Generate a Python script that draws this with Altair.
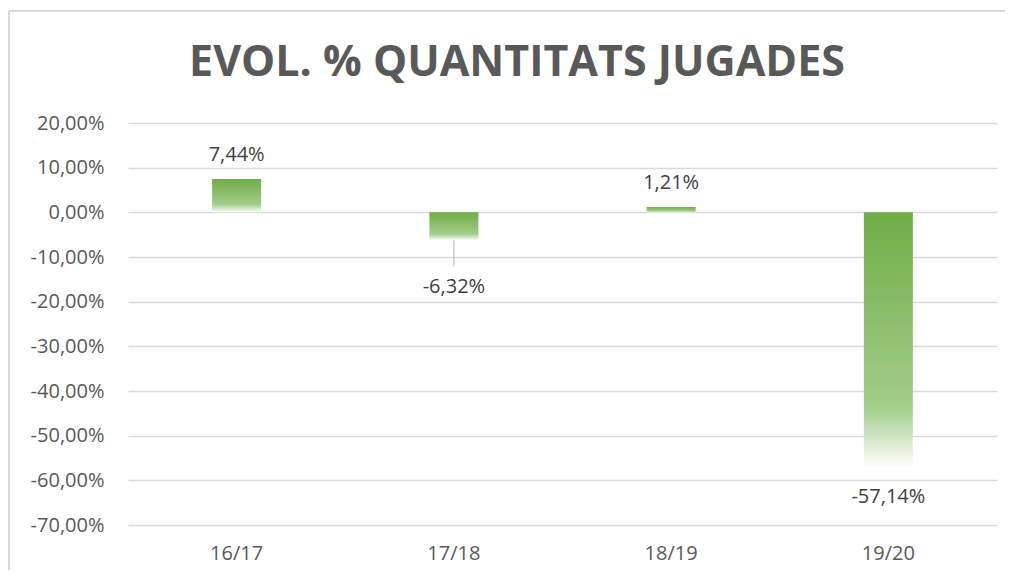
import altair as alt
import pandas as pd

categories = ["16/17", "17/18", "18/19", "19/20"]
values = [7.44, -6.32, 1.21, -57.14]
y_ticks = [20, 10, 0, -10, -20, -30, -40, -50, -60, -70]
title_text = "EVOL. % QUANTITATS JUGADES"

df = pd.DataFrame({"cat": categories, "val": values})

FONT = "Open Sans"
GRID = "#D9D9D9"
FMT = "(datum.value < 0 ? '-' : '') + replace(format(abs(datum.value), '.2f'), '.', ',') + '%'"

x_enc = alt.X("cat:N", sort=categories, title=None,
              scale=alt.Scale(paddingInner=0, paddingOuter=0),
              axis=alt.Axis(labelFontSize=20, labelColor="#595959", labelFont=FONT,
                            labelPadding=18, domain=False, ticks=False, grid=False,
                            labelAngle=0))
y_enc = alt.Y("val:Q", title=None,
              scale=alt.Scale(domain=[-70, 20], nice=False, zero=False),
              axis=alt.Axis(values=y_ticks, labelFontSize=20, labelColor="#595959",
                            labelFont=FONT, labelPadding=24, domain=False, ticks=False,
                            grid=True, gridColor=GRID, gridWidth=1.3,
                            labelExpr=FMT))

base = alt.Chart(df).encode(x=x_enc)

grad = alt.Gradient(
    gradient="linear", x1=0, y1=0, x2=0, y2=1,
    stops=[alt.GradientStop(color="#70AD47", offset=0),
           alt.GradientStop(color="#A2CD8A", offset=0.76),
           alt.GradientStop(color="#FFFFFF", offset=1)])

bars = base.mark_bar(size=49, fill=grad).encode(y=y_enc, y2=alt.datum(0))

lbl = base.transform_calculate(
    lab="(datum.val < 0 ? '-' : '') + replace(format(abs(datum.val), '.2f'), '.', ',') + '%'"
).encode(y=alt.Y("val:Q"), text="lab:N")

pos_lbl = lbl.transform_filter("datum.val >= 0").mark_text(
    dy=-24, font=FONT, fontSize=20, color="#404040", baseline="middle")
small_neg = lbl.transform_filter("datum.val < 0 && datum.val > -10").mark_text(
    dy=46, font=FONT, fontSize=20, color="#404040", baseline="middle")
big_neg = lbl.transform_filter("datum.val <= -10").mark_text(
    dy=29, font=FONT, fontSize=20, color="#404040", baseline="middle")

leader = base.transform_filter("datum.val < 0 && datum.val > -10").mark_tick(
    orient="vertical", size=26, thickness=1.2, yOffset=13, color="#A6A6A6"
).encode(y=alt.Y("val:Q"))

frame_left = alt.Chart(df).mark_rule(color=GRID, strokeWidth=1.5).encode(
    x=alt.value(-119), y=alt.value(-112), y2=alt.value(447))
frame_top = alt.Chart(df).mark_rule(color=GRID, strokeWidth=1.5).encode(
    y=alt.value(-112), x=alt.value(-119), x2=alt.value(877))

title = alt.Chart(pd.DataFrame({"t": [title_text]})).mark_text(
    font=FONT, fontSize=43, fontWeight="bold", color="#595959",
    align="center", baseline="alphabetic"
).encode(text="t:N", x=alt.value(389), y=alt.value(-47))

chart = alt.layer(bars, leader, pos_lbl, small_neg, big_neg, frame_left, frame_top, title).properties(
    width=869, height=402,
    background="white",
    autosize=alt.AutoSizeParams(type="none"),
    padding={"left": 120, "top": 115, "right": 8, "bottom": 45},
).configure_view(strokeWidth=0, stroke="transparent")

chart.save("out.html", embed_options={"renderer": "svg", "actions": False})
